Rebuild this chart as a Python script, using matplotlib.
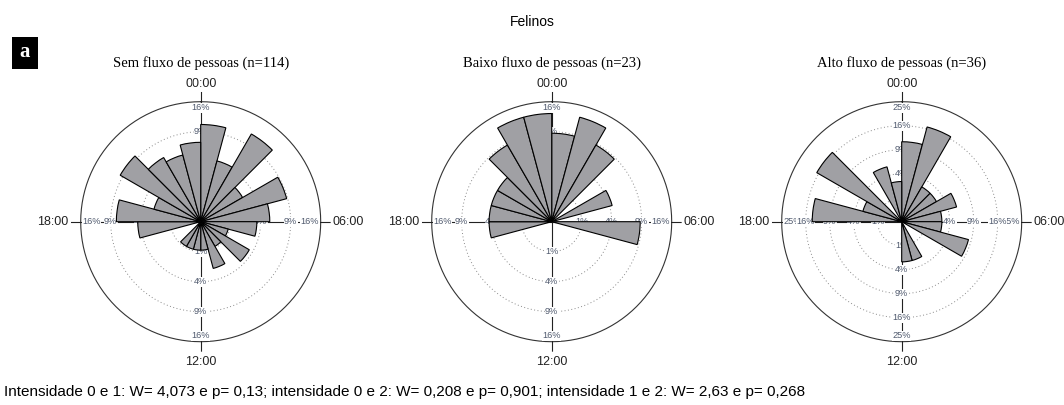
"""
Felinos - diagramas de rosa (atividade por hora) para tres niveis de fluxo de pessoas
"""

import numpy as np
import matplotlib
matplotlib.use("Agg")
import matplotlib.pyplot as plt
from matplotlib.patches import Rectangle

plt.rcParams["font.family"] = ["Liberation Sans", "DejaVu Sans"]

# ── dados (% de registros por hora, 24 classes de 1 h) ──────────────
HOUR_BINS = np.arange(24)
SEM_FLUXO = [10.5, 4.4, 11.4, 2.6, 8.8, 5.3, 3.5, 0.9, 3.5, 0.9, 2.6, 0.9,
             0.9, 0.9, 0.9, 0.0, 0.0, 4.4, 7.9, 2.6, 9.6, 6.1, 5.3, 7.0]
BAIXO_FLUXO = [8.7, 13.0, 8.7, 0.0, 4.35, 0.0, 8.7, 0.0, 0.0, 0.0, 0.0, 0.0,
               0.0, 0.0, 0.0, 0.0, 0.0, 4.35, 4.35, 4.35, 4.35, 8.7, 13.0, 13.0]
ALTO_FLUXO = [11.1, 16.7, 2.8, 2.8, 5.6, 2.8, 2.8, 8.3, 0.0, 0.0, 2.8, 2.8,
              0.0, 0.0, 0.0, 0.0, 0.0, 0.0, 13.9, 2.8, 16.7, 0.0, 5.6, 2.8]

TITLES = ["Sem fluxo de pessoas (n=114)",
          "Baixo fluxo de pessoas (n=23)",
          "Alto fluxo de pessoas (n=36)"]
RING_PCT = [[1, 4, 9, 16], [1, 4, 9, 16], [1, 4, 9, 16, 25]]
TIME_LABELS = ["00:00", "06:00", "12:00", "18:00"]
FOOTNOTE = ("Intensidade 0 e 1: W= 4,073 e p= 0,13; intensidade 0 e 2: W= 0,208 e p= 0,901; "
            "intensidade 1 e 2: W= 2,63 e p= 0,268")

SERIES = [SEM_FLUXO, BAIXO_FLUXO, ALTO_FLUXO]

# ── layout (pixels) ─────────────────────────────────────────────────
W, H = 1064, 405
CENTERS_X = [200.7, 551.7, 901.7]
CENTER_Y = 221.7
R_CIRCLE = 120.0   # raio do circulo externo
R_AXES = 130.0     # raio da area polar (linhas dos eixos)

BAR_COLOR = "#a0a0a4"
LBL_COLOR = "#505a6e"

fig = plt.figure(figsize=(W / 100, H / 100), dpi=100)

fig.text(532 / W, 1 - 22 / H, "Felinos", ha="center", va="center", fontsize=10)

# caixa "a"
fig.patches.append(Rectangle((12 / W, 1 - 69 / H), 26 / W, 32 / H,
                             transform=fig.transFigure, facecolor="black",
                             edgecolor="none"))
fig.text(25 / W, 1 - 52 / H, "a", ha="center", va="center", color="white",
         fontsize=15, fontweight="bold", family="Liberation Serif")

theta_full = np.linspace(0, 2 * np.pi, 361)
width = 2 * np.pi / 24

for i, (vals, title, rings) in enumerate(zip(SERIES, TITLES, RING_PCT)):
    cx = CENTERS_X[i]
    rmax = np.sqrt(rings[-1])
    ppu = R_CIRCLE / rmax           # pixels por unidade (raiz do %)
    rlim = R_AXES / ppu

    ax = fig.add_axes([(cx - R_AXES) / W, (H - CENTER_Y - R_AXES) / H,
                       2 * R_AXES / W, 2 * R_AXES / H], projection="polar")
    ax.set_theta_zero_location("N")
    ax.set_theta_direction(-1)
    ax.set_ylim(0, rlim)
    ax.axis("off")

    # circulos
    for pct in rings[:-1]:
        ax.plot(theta_full, np.full_like(theta_full, np.sqrt(pct)),
                color="#8a8a8a", lw=0.7, ls=(0, (1, 2.5)), zorder=1)
    ax.plot(theta_full, np.full_like(theta_full, rmax), color="#333333",
            lw=0.8, zorder=1)

    # eixos
    for ang in [0, np.pi / 2, np.pi, 3 * np.pi / 2]:
        ax.plot([ang, ang], [0, rlim], color="#222222", lw=0.8, zorder=2)

    # rotulos de % (o externo fica por baixo dos outros)
    off = 1.5 / ppu
    for pct in rings:
        r = np.sqrt(pct)
        last = pct == rings[-1]
        txt = f"{pct}%"
        kw = dict(fontsize=6.6, color=LBL_COLOR, zorder=2.5 if last else 3,
                  bbox=dict(facecolor="white", edgecolor="none", pad=0.3))
        rr = r - (off if last else 0)
        ax.text(0, rr, txt, ha="center", va="top" if last else "center", **kw)
        ax.text(np.pi, rr, txt, ha="center", va="bottom" if last else "center", **kw)
        ax.text(np.pi / 2, rr, txt, ha="right" if last else "center", va="center", **kw)
        ax.text(3 * np.pi / 2, rr, txt, ha="left" if last else "center", va="center", **kw)

    # barras
    ax.bar(HOUR_BINS * width, np.sqrt(vals), width=width, align="edge",
           color=BAR_COLOR, edgecolor="black", linewidth=0.8, zorder=4)

    # horarios
    tk = dict(fontsize=9, color="#222222", clip_on=False)
    ax.text(0, 138 / ppu, TIME_LABELS[0], ha="center", va="center", **tk)
    ax.text(np.pi / 2, 132 / ppu, TIME_LABELS[1], ha="left", va="center", **tk)
    ax.text(np.pi, 140 / ppu, TIME_LABELS[2], ha="center", va="center", **tk)
    ax.text(3 * np.pi / 2, 132 / ppu, TIME_LABELS[3], ha="right", va="center", **tk)

    fig.text(cx / W, 1 - 63 / H, title, ha="center", va="center",
             fontsize=10.5, family="Liberation Serif")

fig.text(4 / W, 1 - 392 / H, FOOTNOTE, ha="left", va="center", fontsize=11)

fig.savefig("out.png", dpi=100, facecolor="white")
plt.close(fig)
